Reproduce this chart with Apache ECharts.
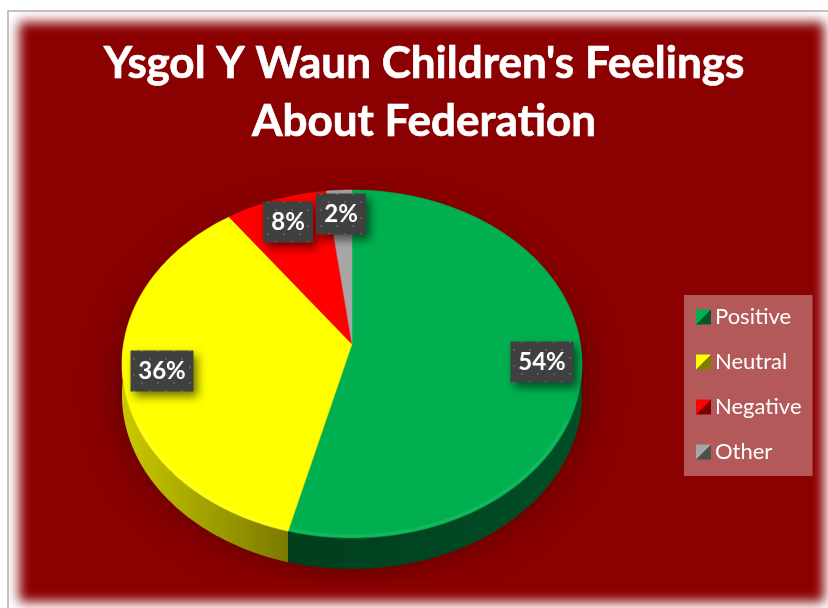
<!DOCTYPE html>
<html>
<head>
<meta charset="utf-8">
<style>html,body{margin:0;padding:0;background:#fff}#c{width:828px;height:608px}</style>
<script src="https://cdn.jsdelivr.net/npm/echarts@6/dist/echarts.min.js"></script>
</head>
<body>
<div id="c"></div>
<script>
var titleLines = ["Ysgol Y Waun Children's Feelings", "About Federation"];
var categories = ["Positive", "Neutral", "Negative", "Other"];
var percents = [54, 36, 8, 2];
var topColors = ["#00B050", "#FFFF00", "#FF0000", "#A6A6A6"];
var rimColors = ["#3CCB7C", "#FFFF66", "#FF5050", "#C8C8C8"];
var wallLight = ["#004F26", "#C9C900", "#A00000", "#707070"];
var wallDark = ["#003D1D", "#7A7A00", "#700000", "#505050"];
var iconDark = ["#00572B", "#7F7F00", "#7F0000", "#4F4F4F"];

var FONT = "Lato, Carlito, 'Open Sans', sans-serif";
var CX = 352, CY = 344, R = 228.5, A = 171.7, K = -0.115, DEPTH = 31, LABEL_R = 0.83;
var total = percents.reduce(function (a, b) { return a + b; }, 0);

function project(frac, r) {
  var t = frac * 2 * Math.PI, u = Math.sin(t) * r, v = -Math.cos(t) * r, d = 1 + K * v;
  return [CX + R * u / d, CY + A * v / d];
}
function startFrac(i) {
  var s = 0;
  for (var k = 0; k < i; k++) s += percents[k];
  return s / total;
}
function arc(f0, f1, r) {
  var pts = [], n = Math.max(4, Math.ceil((f1 - f0) * 360));
  for (var i = 0; i <= n; i++) pts.push(project(f0 + (f1 - f0) * i / n, r));
  return pts;
}
function wallPoints(f0, f1) {
  var pts = arc(f0, f1, 1).filter(function (p) { return p[1] >= 345; });
  if (pts.length < 2) return null;
  var low = pts.map(function (p) { return [p[0], p[1] + DEPTH]; }).reverse();
  return pts.concat(low);
}

var dots = document.createElement('canvas');
dots.width = dots.height = 16;
(function () {
  var g = dots.getContext('2d');
  g.fillStyle = '#404040'; g.fillRect(0, 0, 16, 16);
  g.fillStyle = '#5c5c5c';
  g.fillRect(3, 3, 2, 2); g.fillRect(11, 11, 2, 2);
})();

function sliceSeries(i) {
  return {
    type: 'custom', name: categories[i], coordinateSystem: 'none', silent: true,
    data: [percents[i]], z: 3 + i,
    renderItem: function () {
      var f0 = startFrac(i), f1 = f0 + percents[i] / total, kids = [];
      var wall = wallPoints(f0, f1);
      if (wall) {
        kids.push({
          type: 'polygon', shape: { points: wall },
          style: { fill: { type: 'linear', x: 0, y: 0, x2: 1, y2: 0, colorStops: i === 0
            ? [{ offset: 0, color: wallDark[i] }, { offset: 1, color: wallLight[i] }]
            : [{ offset: 0, color: wallLight[i] }, { offset: 1, color: wallDark[i] }] } }
        });
      }
      kids.push({
        type: 'polygon',
        shape: { points: [[CX, CY]].concat(arc(f0, f1, 1)) },
        style: { fill: topColors[i], stroke: topColors[i], lineWidth: 0.5 }
      });
      var rim = arc(f0, f1, 0.99).filter(function (p) { return p[1] >= 420; });
      if (rim.length > 1) {
        kids.push({
          type: 'polyline', shape: { points: rim },
          style: { fill: null, stroke: rimColors[i], lineWidth: 3, opacity: 0.3 }
        });
      }
      return { type: 'group', children: kids };
    }
  };
}

function labelSeries(i) {
  return {
    type: 'custom', name: categories[i] + ' label', coordinateSystem: 'none', silent: true,
    data: [percents[i]], z: 10 + i,
    renderItem: function () {
      var f = startFrac(i) + percents[i] / total / 2;
      var p = project(f, LABEL_R);
      var text = percents[i] + '%';
      var w = percents[i] >= 10 ? 63 : 50, h = 41;
      return {
        type: 'group', x: Math.round(p[0]), y: Math.round(p[1]),
        children: [{
          type: 'rect', shape: { x: -w / 2, y: -h / 2, width: w, height: h },
          style: {
            fill: { type: 'pattern', image: dots, repeat: 'repeat' },
            shadowColor: 'rgba(0,0,0,0.55)', shadowBlur: 10, shadowOffsetX: 4, shadowOffsetY: 5
          }
        }, {
          type: 'text', x: 0, y: 0,
          style: { text: text, fill: '#fff', font: 'bold 24px ' + FONT, align: 'center', verticalAlign: 'middle' }
        }]
      };
    }
  };
}

var shadowSeries = {
  type: 'custom', name: 'shadow', coordinateSystem: 'none', silent: true, data: [total], z: 2,
  renderItem: function () {
    var full = arc(0, 1, 0.97).map(function (p) { return [p[0], p[1] + DEPTH - 6]; });
    return {
      type: 'polygon', shape: { points: full },
      clipPath: { type: 'rect', shape: { x: 0, y: 0, width: 828, height: 582 } },
      style: { fill: '#500000', shadowColor: 'rgba(0,0,0,0.6)', shadowBlur: 46 }
    };
  }
};

var series = [shadowSeries];
categories.forEach(function (c, i) { series.push(sliceSeries(i)); });
categories.forEach(function (c, i) { series.push(labelSeries(i)); });

var chart = echarts.init(document.getElementById('c'), null, { renderer: 'canvas' });
chart.setOption({
  animation: false,
  backgroundColor: '#ffffff',
  title: {
    text: titleLines.join('\n'), left: 419, top: 30, textAlign: 'center',
    textStyle: { fontFamily: FONT, fontWeight: 'bold', fontSize: 44, lineHeight: 58, color: '#fff',
      textBorderColor: '#fff', textBorderWidth: 0.7 }
  },
  legend: {
    show: true, orient: 'vertical', left: 684, top: 295, width: 129,
    padding: [11, 11, 13, 12], itemWidth: 15, itemHeight: 15, itemGap: 23,
    backgroundColor: 'rgba(255,255,255,0.35)', selectedMode: false, icon: 'rect',
    textStyle: { color: '#fff', fontFamily: FONT, fontSize: 22, padding: [0, 0, 0, -1] },
    data: categories.map(function (c, i) {
      return { name: c, itemStyle: { color: { type: 'linear', x: 0, y: 0, x2: 1, y2: 1, colorStops: [
        { offset: 0, color: topColors[i] }, { offset: 0.5, color: topColors[i] },
        { offset: 0.5, color: iconDark[i] }, { offset: 1, color: iconDark[i] }] } } };
    })
  },
  graphic: {
    elements: [
      { type: 'rect', z: -3, silent: true, shape: { x: 8, y: 11, width: 900, height: 800 },
        style: { fill: '#fff', stroke: '#c4c4c4', lineWidth: 2 } },
      { type: 'rect', z: -2, silent: true, shape: { x: 19 - 2000, y: 22, width: 805, height: 580 },
        style: { fill: '#8B0000', shadowColor: '#8B0000', shadowBlur: 11, shadowOffsetX: 2000 } }
    ]
  },
  series: series
});
</script>
</body>
</html>
